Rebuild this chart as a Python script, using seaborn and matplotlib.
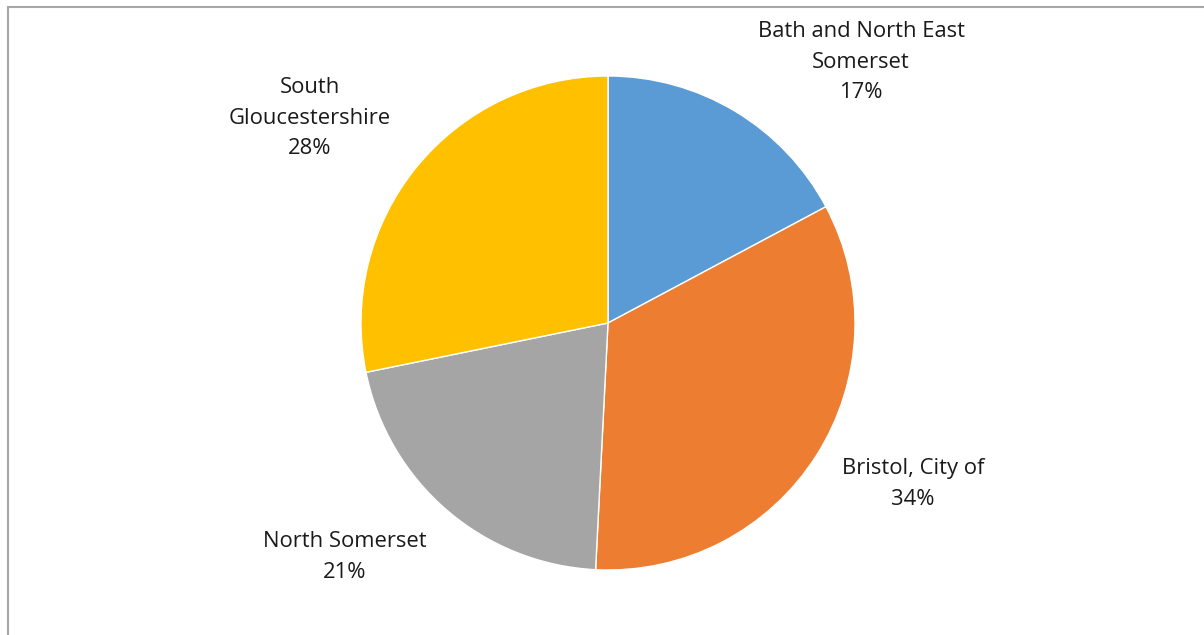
import matplotlib
matplotlib.use("Agg")
import matplotlib.pyplot as plt
from matplotlib.patches import Rectangle
import seaborn as sns

# data
areas = ["Bath and North East\nSomerset", "Bristol, City of", "North Somerset", "South\nGloucestershire"]
shares = [17.2, 33.6, 21.0, 28.2]
colors = ["#5B9BD5", "#ED7D31", "#A5A5A5", "#FFC000"]

sns.set_theme(style="white")
plt.rcParams["font.family"] = ["Open Sans", "DejaVu Sans"]

W, H = 1204, 635
fig = plt.figure(figsize=(W / 100, H / 100), dpi=100)

# pie centre and radius in pixels
cx, cy, r = 608, 323, 247
half = 260
ax = fig.add_axes([(cx - half) / W, (H - cy - half) / H, 2 * half / W, 2 * half / H])

ax.pie(shares, colors=colors, startangle=90, counterclock=False, radius=1,
       wedgeprops=dict(edgecolor="white", linewidth=1))
ax.set_xlim(-half / r, half / r)
ax.set_ylim(-half / r, half / r)
ax.set_aspect("equal")
ax.axis("off")

# label positions (pixels in the original layout)
label_px = [(861, 62), (913, 484), (345, 557), (310, 118)]
total = sum(shares)
for name, val, (px, py) in zip(areas, shares, label_px):
    ax.text((px - cx) / r, (cy - py) / r, f"{name}\n{100 * val / total:.0f}%", ha="center", va="center",
            fontsize=15.8, color="#1a1a1a", linespacing=1.58)

fig.add_artist(Rectangle((7.5 / W, -0.1), 1.2, 1.1 - 7.5 / H, transform=fig.transFigure,
                         fill=False, edgecolor="#A6A6A6", linewidth=1.5))

fig.savefig("out.png", dpi=100, facecolor="white")
